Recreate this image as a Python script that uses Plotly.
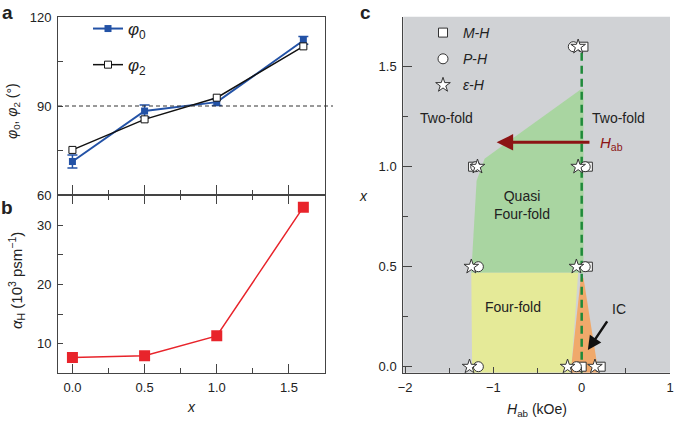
import plotly.graph_objects as go

# ---------------- data ----------------
x_vals = [0.0, 0.5, 1.0, 1.6]
phi0 = [71.3, 88.3, 91.3, 112.1]
phi0_err = [2.2, 2.0, 1.1, 1.3]
phi2 = [75.2, 85.5, 92.8, 110.1]
alpha_h = [7.7, 8.0, 11.35, 33.0]

# panel c: phase regions (H in kOe, x)
green_H = [-1.25, -1.19, -1.10, 0.0, 0.02, 0.02]
green_x = [0.47, 0.93, 1.04, 1.39, 1.39, 0.47]
yellow_H = [-1.25, -0.04, -0.12, -1.24]
yellow_x = [0.47, 0.47, -0.03, -0.03]
orange_H = [-0.01, 0.02, 0.19, -0.125]
orange_x = [0.445, 0.445, -0.03, -0.03]
boundary_H = [0.0, 0.0]
boundary_x = [-0.03, 1.58]

# panel c: measured transition points
mh_H = [0.02, -1.23, 0.07, 0.07, 0.0, 0.215]
mh_x = [1.6, 1.0, 1.0, 0.5, 0.0, 0.0]
ph_H = [-0.095, -1.20, 0.04, -1.17, 0.04, -1.17, -0.06]
ph_x = [1.6, 1.0, 1.0, 0.5, 0.5, 0.0, 0.0]
eh_H = [-0.04, -1.18, -0.04, -1.25, -0.06, -1.27, -0.16, 0.15]
eh_x = [1.6, 1.0, 1.0, 0.5, 0.5, 0.0, 0.0, 0.0]

W, H = 675, 421
FONT = "Liberation Sans, Arial, sans-serif"
AX = "#444444"
BLUE = "#2352a6"
RED = "#e8242b"
DRED = "#8c1414"
GREEN_LINE = "#1f8a3a"


def px(x):
    return x / W


def py(y):
    return 1 - y / H


fig = go.Figure()

# ---------------- panel a ----------------
fig.add_trace(go.Scatter(
    x=x_vals, y=phi0, mode="lines+markers", name="<i>φ</i><sub>0</sub>",
    line=dict(color=BLUE, width=2),
    marker=dict(symbol="square", size=7, color=BLUE),
    error_y=dict(type="data", array=phi0_err, color=BLUE, thickness=1.5, width=5),
    xaxis="x", yaxis="y", legend="legend", legendgroup="p0"))
fig.add_trace(go.Scatter(
    x=x_vals, y=phi2, mode="lines+markers", name="<i>φ</i><sub>2</sub>",
    line=dict(color="#111111", width=1.5),
    marker=dict(symbol="square", size=7, color="white", line=dict(color="#111111", width=1)),
    xaxis="x", yaxis="y", legend="legend", legendgroup="p2"))

# ---------------- panel b ----------------
fig.add_trace(go.Scatter(
    x=x_vals, y=alpha_h, mode="lines+markers", showlegend=False,
    line=dict(color=RED, width=1.5),
    marker=dict(symbol="square", size=11, color=RED),
    xaxis="x2", yaxis="y2"))

# ---------------- panel c ----------------
for hx, xx, col in [(green_H, green_x, "#a9d5a1"),
                    (yellow_H, yellow_x, "#e5ea98"),
                    (orange_H, orange_x, "#f0a96b")]:
    fig.add_trace(go.Scatter(x=hx, y=xx, mode="lines", fill="toself", fillcolor=col,
                             line=dict(width=0), showlegend=False, hoverinfo="skip",
                             xaxis="x3", yaxis="y3"))
fig.add_trace(go.Scatter(x=boundary_H, y=boundary_x, mode="lines", showlegend=False,
                         line=dict(color=GREEN_LINE, width=2.5, dash="8px,5px"),
                         xaxis="x3", yaxis="y3"))

mk = dict(color="white", line=dict(color="#333333", width=1))
fig.add_trace(go.Scatter(x=mh_H, y=mh_x, mode="markers", name="<i>M</i>-<i>H</i>",
                         marker=dict(symbol="square", size=9, **mk),
                         xaxis="x3", yaxis="y3", legend="legend2", legendgroup="m"))
fig.add_trace(go.Scatter(x=ph_H, y=ph_x, mode="markers", name="<i>P</i>-<i>H</i>",
                         marker=dict(symbol="circle", size=10, **mk),
                         xaxis="x3", yaxis="y3", legend="legend2", legendgroup="p"))
fig.add_trace(go.Scatter(x=eh_H, y=eh_x, mode="markers", name="<i>ε</i>-<i>H</i>",
                         marker=dict(symbol="star", size=11, **mk),
                         xaxis="x3", yaxis="y3", legend="legend2", legendgroup="e"))

# ---------------- axes ----------------
dom_x_ab = [px(58), px(325)]
dom_x_c = [px(403.3), px(670)]
dom_y_a = [py(195), py(17)]
dom_y_b = [py(372.7), py(195)]
dom_y_c = [py(372.7), py(16.7)]

tickfont = dict(family=FONT, size=13, color="#222222")
common = dict(showgrid=False, zeroline=False, showline=True, linecolor=AX, linewidth=1,
              ticks="inside", tickcolor=AX, tickfont=tickfont, mirror=True, automargin=False)

fig.update_layout(
    xaxis=dict(domain=dom_x_ab, anchor="y", range=[-0.1, 1.75], dtick=0.5, tick0=0,
               ticklen=10, showticklabels=False,
               minor=dict(dtick=0.25, tick0=0, ticks="inside", ticklen=5, tickcolor=AX),
               **common),
    yaxis=dict(domain=dom_y_a, anchor="x", range=[60, 120], dtick=30, tick0=0, ticklen=5,
               ticklabelstandoff=3,
               minor=dict(dtick=15, tick0=0, ticks="inside", ticklen=5, tickcolor=AX),
               **common),
    xaxis2=dict(domain=dom_x_ab, anchor="y2", range=[-0.1, 1.75], dtick=0.5, tick0=0,
                ticklen=9, tickformat=".1f", ticklabelstandoff=3,
                minor=dict(dtick=0.25, tick0=0, ticks="inside", ticklen=5, tickcolor=AX),
                **{**common, "mirror": "ticks"}),
    yaxis2=dict(domain=dom_y_b, anchor="x2", range=[5.15, 35.05], dtick=10, tick0=0, ticklen=5,
                ticklabelstandoff=3,
                minor=dict(dtick=5, tick0=0, ticks="inside", ticklen=5, tickcolor=AX),
                **common),
    xaxis3=dict(domain=dom_x_c, anchor="y3", range=[-2.02, 1.0], dtick=1, tick0=0, ticklen=6,
                ticklabelstandoff=3,
                minor=dict(dtick=0.5, tick0=0, ticks="inside", ticklen=5, tickcolor=AX),
                **{**common, "mirror": False}),
    yaxis3=dict(domain=dom_y_c, anchor="x3", range=[-0.03, 1.75], dtick=0.5, tick0=0,
                ticklen=9, tickformat=".1f", ticklabelstandoff=3,
                minor=dict(dtick=0.25, tick0=0, ticks="inside", ticklen=5, tickcolor=AX),
                **{**common, "mirror": False}),
)

# panel c background
fig.add_shape(type="rect", xref="x3 domain", yref="y3 domain", x0=0, x1=1, y0=0, y1=1,
              fillcolor="#d0d2d5", line=dict(width=0), layer="below")

# dashed reference line at 90 deg
fig.add_shape(type="line", xref="paper", yref="y", x0=px(58), x1=px(333), y0=90, y1=90,
              line=dict(color="#333333", width=1, dash="4px,3px"))

# ---------------- legends ----------------
fig.update_layout(
    legend=dict(x=px(88), y=py(11), xanchor="left", yanchor="top", bgcolor="rgba(0,0,0,0)",
                font=dict(family=FONT, size=17, color="#222222"), traceorder="grouped",
                tracegroupgap=11, itemwidth=30),
    legend2=dict(x=px(423), y=py(17), xanchor="left", yanchor="top", bgcolor="rgba(0,0,0,0)",
                 font=dict(family=FONT, size=14, color="#222222"), traceorder="grouped",
                 tracegroupgap=5, itemwidth=30),
)

# ---------------- annotations ----------------
ann = []


def ptext(x, y, text, size=13, **kw):
    ann.append(dict(xref="paper", yref="paper", x=px(x), y=py(y), text=text, showarrow=False,
                    xanchor="center", yanchor="middle",
                    font=dict(family=FONT, size=size, color=kw.pop("color", "#222222")), **kw))


ptext(7, 13, "<b>a</b>", size=19)
ptext(7, 207, "<b>b</b>", size=19)
ptext(365, 13, "<b>c</b>", size=19)
ptext(13, 111, "<i>φ</i><sub>0</sub>, <i>φ</i><sub>2</sub> (°)", size=14, textangle=-90)
ptext(16, 281, "<i>α</i><sub>H</sub> (10<sup>3</sup> psm<sup>−1</sup>)", size=15, textangle=-90)
ptext(191.5, 407, "<i>x</i>", size=14)
ptext(364, 196, "<i>x</i>", size=14)
ptext(537, 410, "<i>H</i><sub>ab</sub> (kOe)", size=14)


def dtext(x, y, text, size=14, color="#222222", xanchor="center"):
    ann.append(dict(xref="x3", yref="y3", x=x, y=y, text=text, showarrow=False,
                    xanchor=xanchor, yanchor="middle",
                    font=dict(family=FONT, size=size, color=color)))


dtext(-1.53, 1.242, "Two-fold")
dtext(0.415, 1.242, "Two-fold")
dtext(-0.68, 0.81, "Quasi<br>Four-fold")
dtext(-0.775, 0.30, "Four-fold")
dtext(0.425, 0.29, "IC")
dtext(0.18, 1.115, "<i>H</i><sub>ab</sub>", size=15, color=DRED, xanchor="left")

# arrows
ann.append(dict(xref="x3", yref="y3", axref="x3", ayref="y3", x=-0.963, y=1.122,
                ax=0.105, ay=1.122, text="", showarrow=True, arrowhead=2, arrowsize=1.1,
                arrowwidth=3, arrowcolor=DRED))
ann.append(dict(xref="x3", yref="y3", axref="x3", ayref="y3", x=0.07, y=0.083,
                ax=0.30, ay=0.234, text="", showarrow=True, arrowhead=2, arrowsize=1.1,
                arrowwidth=2.5, arrowcolor="#111111"))

fig.update_layout(annotations=ann, width=W, height=H, margin=dict(l=0, r=0, t=0, b=0),
                  paper_bgcolor="white", plot_bgcolor="white",
                  font=dict(family=FONT, size=13, color="#222222"))

fig.write_html("out.html", config={"displayModeBar": False},
               post_script="document.body.style.margin='0px';")
